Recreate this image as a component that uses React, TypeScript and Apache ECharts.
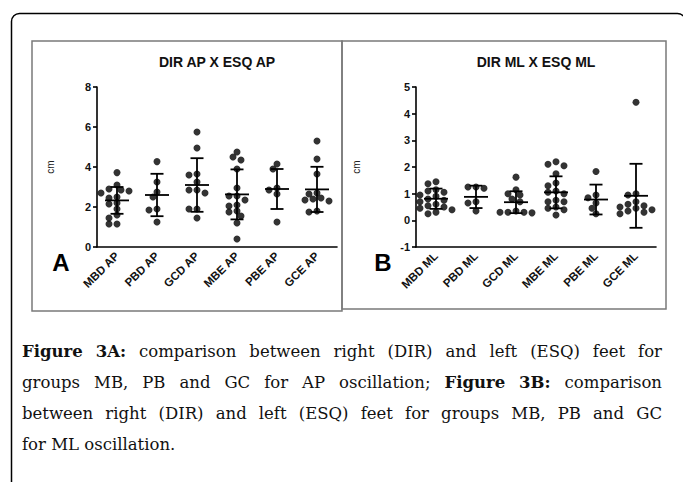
import React, { useEffect, useRef } from 'react';
import * as echarts from 'echarts';

// ---- data ----
const categoriesAP = ['MBD AP', 'PBD AP', 'GCD AP', 'MBE AP', 'PBE AP', 'GCE AP'];
const categoriesML = ['MBD ML', 'PBD ML', 'GCD ML', 'MBE ML', 'PBE ML', 'GCE ML'];

const mbdAP = [3.72, 3.1, 2.9, 2.85, 2.8, 2.7, 2.5, 2.45, 2.2, 2.15, 1.9, 1.6, 1.45, 1.15, 1.15];
const pbdAP = [4.27, 3.25, 2.75, 2.5, 1.9, 1.85, 1.25];
const gcdAP = [5.75, 4.95, 3.65, 3.6, 3.25, 2.85, 2.85, 2.7, 1.9, 1.9, 1.45];
const mbeAP = [4.75, 4.5, 4.35, 3.9, 2.95, 2.55, 2.55, 2.35, 2.1, 2.05, 1.8, 1.75, 1.55, 1.2, 0.4];
const pbeAP = [4.15, 3.9, 2.95, 2.85, 2.65, 1.25];
const gceAP = [5.3, 4.4, 3.65, 2.7, 2.65, 2.45, 2.4, 2.35, 2.3, 1.8, 1.75];
const meanAP = [2.33, 2.6, 3.1, 2.63, 2.9, 2.88];
const sdAP = [0.67, 1.06, 1.34, 1.25, 1.0, 1.13];

const mbdML = [1.45, 1.37, 1.15, 1.1, 1.05, 0.95, 0.9, 0.8, 0.75, 0.7, 0.6, 0.55, 0.5, 0.45, 0.4, 0.3, 0.25];
const pbdML = [1.25, 1.25, 1.2, 0.7, 0.65, 0.35];
const gcdML = [1.62, 1.15, 1.0, 0.95, 0.8, 0.7, 0.35, 0.3, 0.3, 0.28, 0.3];
const mbeML = [2.2, 2.1, 2.05, 1.75, 1.4, 1.3, 1.1, 1.05, 1.0, 0.75, 0.7, 0.7, 0.5, 0.45, 0.4, 0.2];
const pbeML = [1.83, 0.95, 0.85, 0.65, 0.45, 0.25];
const gceML = [4.43, 1.0, 0.95, 0.7, 0.6, 0.55, 0.5, 0.45, 0.4, 0.35, 0.3, 0.25];
const meanML = [0.81, 0.88, 0.68, 1.05, 0.78, 0.92];
const sdML = [0.38, 0.42, 0.41, 0.6, 0.56, 1.2];

const titleAP = 'DIR AP X ESQ AP';
const titleML = 'DIR ML X ESQ ML';

const captionLines: { t: string; b?: boolean }[][] = [
  [{ t: 'Figure 3A:', b: true }, { t: 'comparison between right (DIR) and left (ESQ) feet for' }],
  [{ t: 'groups MB, PB and GC for AP oscillation;' }, { t: 'Figure 3B:', b: true }, { t: 'comparison' }],
  [{ t: 'between right (DIR) and left (ESQ) feet for groups MB, PB and GC' }],
  [{ t: 'for ML oscillation.' }],
];

// ---- layout constants ----
const W = 683;
const H = 482;
const GRID_TOP = 87;
const GRID_H = 160;
const GRID_W = 240;
const LEFT_A = 97;
const LEFT_B = 416;
const DOT = 7;

function swarm(vals: number[], pxPerUnit: number, dia: number, step: number) {
  const order = vals.map((_, i) => i).sort((a, b) => vals[b] - vals[a]);
  const placed: { x: number; y: number }[] = [];
  const offs = new Array(vals.length).fill(0);
  for (const i of order) {
    const y = vals[i] * pxPerUnit;
    for (let k = 0; k < 60; k++) {
      const cand = k === 0 ? 0 : (k % 2 === 1 ? -1 : 1) * Math.ceil(k / 2) * step;
      if (placed.every((p) => Math.hypot(p.x - cand, p.y - y) >= dia)) {
        offs[i] = cand;
        placed.push({ x: cand, y });
        break;
      }
    }
  }
  return offs;
}

function scatterData(groups: number[][], pxPerUnit: number) {
  const out: any[] = [];
  groups.forEach((vals, g) => {
    const offs = swarm(vals, pxPerUnit, DOT - 1, 4);
    vals.forEach((v, i) => out.push({ value: [g, v], symbolOffset: [offs[i], 0] }));
  });
  return out;
}

function errRender(params: any, api: any) {
  const i = api.value(0);
  const m = api.value(1);
  const s = api.value(2);
  const c = api.coord([i, m]);
  const t = api.coord([i, m + s]);
  const b = api.coord([i, m - s]);
  const style = { stroke: '#000', lineWidth: 1.8 };
  return {
    type: 'group',
    children: [
      { type: 'line', shape: { x1: c[0], y1: t[1], x2: c[0], y2: b[1] }, style },
      { type: 'line', shape: { x1: c[0] - 6.5, y1: t[1], x2: c[0] + 6.5, y2: t[1] }, style },
      { type: 'line', shape: { x1: c[0] - 6.5, y1: b[1], x2: c[0] + 6.5, y2: b[1] }, style },
      { type: 'line', shape: { x1: c[0] - 12, y1: c[1], x2: c[0] + 12, y2: c[1] }, style },
    ],
  };
}

function captionGraphics() {
  const size = 16.5;
  const family = '"DejaVu Serif", "Liberation Serif", serif';
  const canvas = document.createElement('canvas');
  const ctx = canvas.getContext('2d')!;
  const x0 = 22;
  const x1 = 662;
  const baseY = 351;
  const lineH = 31;
  const els: any[] = [];
  captionLines.forEach((line, li) => {
    const words: { w: string; b: boolean; width: number }[] = [];
    line.forEach((seg) => {
      seg.t.split(' ').forEach((w) => {
        ctx.font = `${seg.b ? 'bold ' : ''}${size}px ${family}`;
        words.push({ w, b: !!seg.b, width: ctx.measureText(w).width });
      });
    });
    ctx.font = `${size}px ${family}`;
    const space = ctx.measureText(' ').width;
    const total = words.reduce((s, w) => s + w.width, 0);
    const last = li === captionLines.length - 1;
    const gap = last || words.length < 2 ? space : (x1 - x0 - total) / (words.length - 1);
    let x = x0;
    words.forEach((w) => {
      els.push({
        type: 'text',
        x,
        y: baseY + li * lineH,
        style: {
          text: w.w,
          fontFamily: family,
          fontSize: size,
          fontWeight: w.b ? 'bold' : 'normal',
          fill: '#111',
          textVerticalAlign: 'middle',
          textAlign: 'left',
        },
      });
      x += w.width + gap;
    });
  });
  return els;
}

const sans = '"Liberation Sans", Arial, Helvetica, sans-serif';

function xAxisCfg(gridIndex: number, cats: string[]) {
  return {
    type: 'category',
    gridIndex,
    data: cats,
    boundaryGap: true,
    axisLine: { onZero: false, lineStyle: { color: '#000', width: 1.6 } },
    axisTick: { alignWithLabel: true, length: 4, lineStyle: { color: '#000', width: 1.6 } },
    axisLabel: {
      rotate: 45,
      margin: 7,
      fontFamily: sans,
      fontWeight: 'bold',
      fontSize: 11.5,
      color: '#111',
    },
    splitLine: { show: false },
  };
}

function yAxisCfg(gridIndex: number, min: number, max: number, interval: number, nameGap: number) {
  return {
    type: 'value',
    gridIndex,
    min,
    max,
    interval,
    name: 'cm',
    nameLocation: 'middle',
    nameGap,
    nameTextStyle: { fontFamily: sans, fontSize: 10, color: '#222' },
    axisLine: { show: true, onZero: false, lineStyle: { color: '#000', width: 1.6 } },
    axisTick: { show: true, length: 4, lineStyle: { color: '#000', width: 1.6 } },
    axisLabel: { margin: 6, fontFamily: sans, fontWeight: 'bold', fontSize: 11, color: '#111' },
    splitLine: { show: false },
  };
}

export default function App() {
  const ref = useRef<HTMLDivElement>(null);
  useEffect(() => {
    if (!ref.current) return;
    const chart = echarts.init(ref.current, null, { renderer: 'svg', width: W, height: H });
    const pxA = GRID_H / 8;
    const pxB = GRID_H / 6;
    chart.setOption({
      animation: false,
      backgroundColor: '#fff',
      grid: [
        { left: LEFT_A, top: GRID_TOP, width: GRID_W, height: GRID_H },
        { left: LEFT_B, top: GRID_TOP, width: GRID_W, height: GRID_H },
      ],
      xAxis: [xAxisCfg(0, categoriesAP), xAxisCfg(1, categoriesML)],
      yAxis: [yAxisCfg(0, 0, 8, 2, 42), yAxisCfg(1, -1, 5, 1, 55)],
      series: [
        {
          type: 'scatter',
          xAxisIndex: 0,
          yAxisIndex: 0,
          symbol: 'circle',
          symbolSize: DOT,
          itemStyle: { color: '#000' },
          data: scatterData([mbdAP, pbdAP, gcdAP, mbeAP, pbeAP, gceAP], pxA),
        },
        {
          type: 'custom',
          xAxisIndex: 0,
          yAxisIndex: 0,
          renderItem: errRender,
          data: meanAP.map((m, i) => [i, m, sdAP[i]]),
          z: 3,
        },
        {
          type: 'scatter',
          xAxisIndex: 1,
          yAxisIndex: 1,
          symbol: 'circle',
          symbolSize: DOT,
          itemStyle: { color: '#000' },
          data: scatterData([mbdML, pbdML, gcdML, mbeML, pbeML, gceML], pxB),
        },
        {
          type: 'custom',
          xAxisIndex: 1,
          yAxisIndex: 1,
          renderItem: errRender,
          data: meanML.map((m, i) => [i, m, sdML[i]]),
          z: 3,
        },
      ],
      graphic: [
        {
          type: 'rect',
          shape: { x: 11.5, y: 13.5, width: 674, height: 520, r: 8 },
          style: { fill: 'none', stroke: '#000', lineWidth: 1.5 },
          z: -1,
        },
        {
          type: 'rect',
          shape: { x: 32, y: 41, width: 310, height: 270 },
          style: { fill: 'none', stroke: '#7a7a7a', lineWidth: 1.5 },
          z: -1,
        },
        {
          type: 'rect',
          shape: { x: 342, y: 41, width: 324, height: 268 },
          style: { fill: 'none', stroke: '#7a7a7a', lineWidth: 1.5 },
          z: -1,
        },
        {
          type: 'text',
          x: LEFT_A + GRID_W / 2,
          y: 62,
          style: { text: titleAP, fontFamily: sans, fontWeight: 'bold', fontSize: 14, fill: '#111', textAlign: 'center', textVerticalAlign: 'middle' },
        },
        {
          type: 'text',
          x: LEFT_B + GRID_W / 2,
          y: 62,
          style: { text: titleML, fontFamily: sans, fontWeight: 'bold', fontSize: 14, fill: '#111', textAlign: 'center', textVerticalAlign: 'middle' },
        },
        {
          type: 'text',
          x: 61,
          y: 262,
          style: { text: 'A', fontFamily: sans, fontWeight: 'bold', fontSize: 24, fill: '#000', textAlign: 'center', textVerticalAlign: 'middle' },
        },
        {
          type: 'text',
          x: 383,
          y: 262,
          style: { text: 'B', fontFamily: sans, fontWeight: 'bold', fontSize: 24, fill: '#000', textAlign: 'center', textVerticalAlign: 'middle' },
        },
        ...captionGraphics(),
      ],
    });
    return () => chart.dispose();
  }, []);
  return <div ref={ref} style={{ position: 'fixed', left: 0, top: 0, width: W, height: H }} />;
}
